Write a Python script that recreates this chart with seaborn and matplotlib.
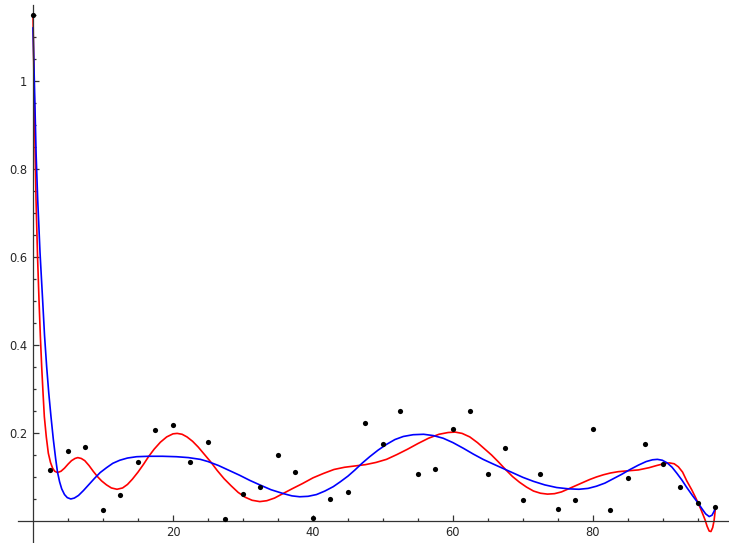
import numpy as np
import matplotlib
matplotlib.use("Agg")
import matplotlib.pyplot as plt
import seaborn as sns

# data points (every 2.5)
pts_x = [0, 2.5, 5, 7.5, 10, 12.5, 15, 17.5, 20, 22.5, 25, 27.5, 30, 32.5, 35, 37.5,
         40, 42.5, 45, 47.5, 50, 52.5, 55, 57.5, 60, 62.5, 65, 67.5, 70, 72.5, 75,
         77.5, 80, 82.5, 85, 87.5, 90, 92.5, 95, 97.5]
pts_y = [1.148, 0.115, 0.158, 0.167, 0.024, 0.057, 0.133, 0.206, 0.218, 0.133,
         0.179, 0.003, 0.060, 0.076, 0.150, 0.110, 0.005, 0.049, 0.065, 0.221,
         0.174, 0.250, 0.106, 0.117, 0.208, 0.250, 0.106, 0.165, 0.046, 0.105,
         0.027, 0.046, 0.207, 0.025, 0.097, 0.175, 0.128, 0.077, 0.039, 0.030]

# red curve
red_x = [0, 0.14, 0.3, 0.43, 0.65, 0.86, 1.05, 1.24, 1.45, 1.62, 1.9, 2.19, 2.5, 2.8,
         3.1, 3.5, 4.0, 4.5, 5.0, 5.5, 6.0, 6.4, 6.9, 7.4, 8.0, 8.6, 9.2, 9.8, 10.5,
         11.2, 12.0, 12.8, 13.5, 14.2, 15.0, 15.8, 16.5, 17.3, 18.2, 19.1, 20.0, 20.6,
         21.3, 22.0, 22.8, 23.6, 24.5, 25.4, 26.3, 27.3, 28.3, 29.3, 30.3, 31.3, 32.4,
         33.4, 34.5, 35.8, 37.0, 38.5, 40.0, 41.5, 43.0, 44.5, 46.0, 47.5, 49.0, 50.5,
         52.0, 53.5, 55.0, 56.5, 58.0, 59.3, 60.3, 61.3, 62.4, 63.5, 64.5, 65.5, 66.5,
         67.5, 68.5, 69.5, 70.5, 71.5, 72.5, 73.5, 74.5, 75.5, 76.5, 77.5, 78.5, 79.5,
         80.5, 81.5, 82.5, 83.6, 85.0, 86.5, 88.0, 89.1, 90.1, 90.9, 91.6, 92.2, 92.8,
         93.4, 94.1, 94.6, 95.05, 95.5, 96.0, 96.3, 96.6, 96.85, 97.1, 97.3, 97.4, 97.5]
red_y = [1.15, 1.0, 0.84, 0.73, 0.60, 0.50, 0.42, 0.35, 0.285, 0.236, 0.19, 0.153,
         0.132, 0.119, 0.112, 0.109, 0.112, 0.119, 0.128, 0.136, 0.141, 0.143, 0.141,
         0.136, 0.125, 0.112, 0.100, 0.090, 0.081, 0.074, 0.071, 0.074, 0.082, 0.094,
         0.110, 0.128, 0.145, 0.162, 0.178, 0.190, 0.197, 0.198, 0.196, 0.190, 0.180,
         0.167, 0.150, 0.133, 0.114, 0.095, 0.079, 0.064, 0.053, 0.046, 0.043, 0.045,
         0.051, 0.062, 0.072, 0.084, 0.097, 0.107, 0.116, 0.121, 0.124, 0.127, 0.132,
         0.139, 0.150, 0.162, 0.175, 0.187, 0.196, 0.200, 0.201, 0.198, 0.190, 0.177,
         0.163, 0.149, 0.133, 0.116, 0.100, 0.087, 0.076, 0.067, 0.062, 0.060, 0.061,
         0.065, 0.072, 0.079, 0.086, 0.093, 0.099, 0.104, 0.108, 0.111, 0.113, 0.115,
         0.120, 0.125, 0.129, 0.131, 0.129, 0.122, 0.110, 0.090, 0.070, 0.054, 0.039,
         0.022, 0.002, -0.013, -0.024, -0.025, -0.016, 0.0, 0.014, 0.03]

# blue curve
blue_x = [0, 0.19, 0.45, 0.67, 1.0, 1.38, 1.65, 1.95, 2.25, 2.57, 2.9, 3.24, 3.5, 3.8,
          4.1, 4.5, 4.9, 5.4, 5.9, 6.5, 7.2, 8.0, 8.8, 9.6, 10.5, 11.4, 12.4, 13.5,
          14.8, 16.5, 18.5, 20.5, 22.2, 23.9, 25.0, 26.5, 28.0, 29.5, 31.0, 32.4, 34.0,
          35.8, 37.0, 38.1, 39.3, 40.5, 41.7, 42.9, 43.9, 45.0, 46.0, 47.0, 48.1, 49.3,
          50.5, 51.7, 52.9, 54.3, 55.8, 57.2, 58.6, 60.0, 61.5, 62.9, 64.3, 65.8, 67.2,
          68.6, 70.0, 71.5, 73.1, 74.8, 76.5, 78.0, 79.3, 80.5, 81.7, 82.9, 84.1, 85.3,
          86.5, 87.6, 88.5, 89.2, 89.9, 90.6, 91.3, 92.0, 92.7, 93.4, 94.2, 95.05, 95.6,
          96.1, 96.6, 97.0, 97.3, 97.5]
blue_y = [1.12, 1.0, 0.83, 0.73, 0.61, 0.50, 0.42, 0.35, 0.29, 0.236, 0.185, 0.14,
          0.11, 0.088, 0.072, 0.059, 0.052, 0.049, 0.051, 0.057, 0.068, 0.082, 0.096,
          0.109, 0.120, 0.130, 0.137, 0.142, 0.145, 0.146, 0.146, 0.145, 0.143, 0.139,
          0.134, 0.125, 0.114, 0.103, 0.091, 0.081, 0.070, 0.061, 0.056, 0.054, 0.055,
          0.059, 0.067, 0.077, 0.088, 0.101, 0.115, 0.130, 0.145, 0.160, 0.173, 0.184,
          0.191, 0.195, 0.196, 0.193, 0.187, 0.177, 0.164, 0.151, 0.139, 0.128, 0.118,
          0.108, 0.098, 0.089, 0.081, 0.075, 0.072, 0.071, 0.073, 0.078, 0.085, 0.095,
          0.105, 0.116, 0.126, 0.134, 0.138, 0.139, 0.137, 0.131, 0.121, 0.107, 0.092,
          0.075, 0.057, 0.039, 0.026, 0.015, 0.009, 0.012, 0.021, 0.03]

x_major = [20, 40, 60, 80]
x_labels = ["20", "40", "60", "80"]
y_major = [0.2, 0.4, 0.6, 0.8, 1.0]
y_labels = ["0.2", "0.4", "0.6", "0.8", "1"]

sns.set_style("white")
fig = plt.figure(figsize=(7.29, 5.43), dpi=100)
ax = fig.add_axes([0, 0, 1, 1])

sns.lineplot(x=red_x, y=red_y, sort=False, estimator=None, color="#ff0000", lw=1.2, ax=ax)
sns.lineplot(x=blue_x, y=blue_y, sort=False, estimator=None, color="#0000ff", lw=1.2, ax=ax)
sns.scatterplot(x=pts_x, y=pts_y, color="black", s=14, linewidth=0, zorder=3, ax=ax)

ax.set_xlim(-4.714, 99.43)
ax.set_ylim(-0.0511, 1.183)

for s in ["top", "right"]:
    ax.spines[s].set_visible(False)
ax.spines["left"].set_position(("data", 0))
ax.spines["bottom"].set_position(("data", 0))
ax.spines["left"].set_bounds(-0.0511, 1.171)
ax.spines["bottom"].set_bounds(-2.1, 99.43)
for s in ["left", "bottom"]:
    ax.spines[s].set_color("0.2")
    ax.spines[s].set_linewidth(0.9)

ax.set_xticks(x_major, labels=x_labels)
ax.set_yticks(y_major, labels=y_labels)
ax.set_xticks([v for v in np.arange(5, 100, 5) if v % 20 != 0], minor=True)
ax.set_yticks([v for v in np.arange(0.05, 1.16, 0.05) if abs(v / 0.2 - round(v / 0.2)) > 1e-6], minor=True)
ax.tick_params(which="both", direction="in", color="0.2", width=0.9,
               labelsize=8.3, pad=4, bottom=True, left=True)
ax.tick_params(which="major", length=4.5)
ax.tick_params(which="minor", length=2.5)
ax.set_xlabel("")
ax.set_ylabel("")
ax.grid(False)

fig.savefig("out.png", dpi=100)
